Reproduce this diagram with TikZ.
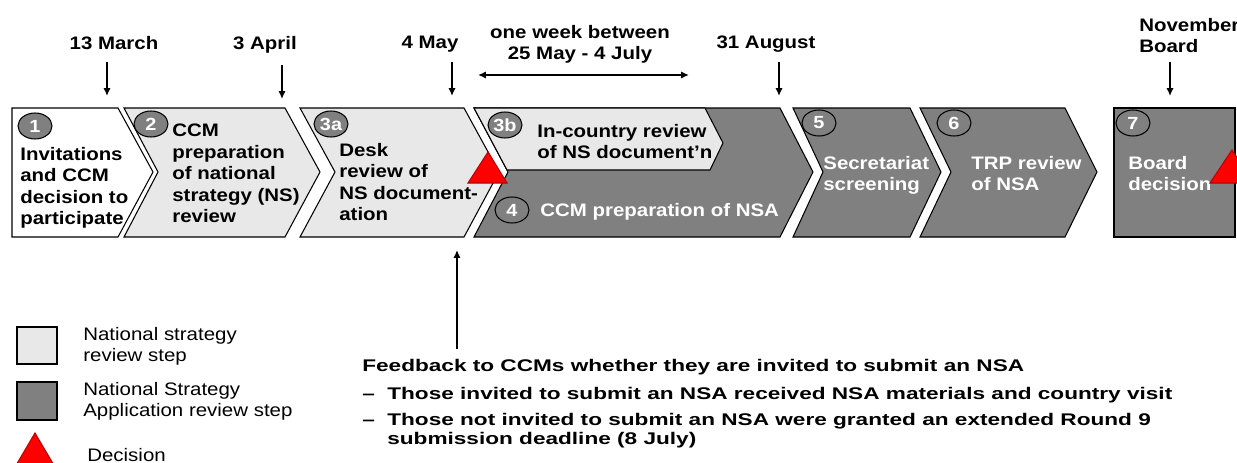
\documentclass[tikz,border=0pt]{standalone}
\usepackage{fontspec}
\setmainfont{Liberation Sans}
\newfontfamily\stepfont{Liberation Sans}[FakeStretch=1.13]
\newfontfamily\notefont{Liberation Sans}[FakeStretch=1.34]
\usetikzlibrary{shapes.geometric,arrows.meta}

\definecolor{nslight}{gray}{0.91}
\definecolor{nsadark}{gray}{0.5}
\definecolor{decred}{RGB}{255,0,0}
\definecolor{decedge}{RGB}{185,0,0}

\tikzset{
    chev/.style={draw=black, line width=0.6pt},
    steptext/.style={anchor=north west, inner sep=0pt, align=left,
        font=\stepfont\fontsize{10.3}{12.2}\selectfont\bfseries},
    datetext/.style={steptext, anchor=north, align=center},
    badge/.style={ellipse, draw=black, fill=nsadark, line width=0.6pt,
        minimum width=0.68cm, minimum height=0.52cm, inner sep=0pt, text=white,
        font=\stepfont\fontsize{10}{12}\selectfont\bfseries},
    keytext/.style={anchor=north west, inner sep=0pt, align=left,
        font=\stepfont\fontsize{10.3}{12}\selectfont},
    notetext/.style={anchor=base west, inner sep=0pt,
        font=\notefont\fontsize{9.6}{10.8}\selectfont\bfseries},
    decision/.style={fill=decred, draw=decedge, line width=0.6pt},
    datearrow/.style={-{Latex[length=4.5pt,width=4.2pt]}, line width=1pt},
}

\begin{document}
\begin{tikzpicture}[x=0.02cm,y=-0.02cm] %Calendario de la revision
        \useasboundingbox (0,0) rectangle (1237,463);

        \filldraw[chev, fill=white] (12,108) -- (118,108) -- (153,172) -- (118,237) -- (12,237) -- cycle;
        \filldraw[chev, fill=nslight] (124,108) -- (285,108) -- (320,172) -- (285,237) -- (124,237) -- (158,172) -- cycle;
        \filldraw[chev, fill=nslight] (300,108) -- (464,108) -- (499,172) -- (464,237) -- (300,237) -- (335,172) -- cycle;
        \filldraw[chev, fill=nsadark] (474,108) -- (780,108) -- (813,172) -- (780,237) -- (474,237) -- (508,172) -- cycle;
        \filldraw[chev, fill=nslight] (474,108) -- (705,108) -- (723,143) -- (710,170) -- (507,170) -- cycle;
        \filldraw[chev, fill=nsadark] (793,108) -- (910,108) -- (941,172) -- (910,237) -- (793,237) -- (823,172) -- cycle;
        \filldraw[chev, fill=nsadark] (920,108) -- (1065,108) -- (1097,172) -- (1065,237) -- (920,237) -- (951,172) -- cycle;
        \filldraw[chev, fill=nsadark] (1114,108) rectangle (1235,237);

        \node[badge] (b1) at (35,126) {1};
        \node[badge] (b2) at (151,124) {2};
        \node[badge] (b3a) at (331,124) {3a};
        \node[badge] (b3b) at (505,125) {3b};
        \node[badge] (b4) at (512,210) {4};
        \node[badge] (b5) at (819,123) {5};
        \node[badge] (b6) at (954,123) {6};
        \node[badge] (b7) at (1133,123) {7};

        \node[steptext] (t1) at (20,147) {Invitations\\and CCM\\decision to\\participate};
        \node[steptext] (t2) at (172,124) {CCM\\preparation\\of national\\strategy (NS)\\review};
        \node[steptext] (t3a) at (339,143) {Desk\\review of\\NS document-\\ation};
        \node[steptext] (t3b) at (537,124) {In-country review\\of NS document’n};
        \node[steptext, text=white] (t4) at (540,203) {CCM preparation of NSA};
        \node[steptext, text=white] (t5) at (823,156) {Secretariat\\screening};
        \node[steptext, text=white] (t6) at (971,156) {TRP review\\of NSA};
        \node[steptext, text=white] (t7) at (1128,156) {Board\\decision};

        \node[datetext] (d1) at (114,36) {13 March};
        \node[datetext] (d2) at (265,36) {3 April};
        \node[datetext] (d3) at (430,36) {4 May};
        \node[datetext] (d4) at (580,25) {one week between\\25 May - 4 July};
        \node[datetext] (d5) at (766,36) {31 August};
        \node[steptext] (d6) at (1139,18) {November\\Board};

        \coordinate (a1) at (107,62);
        \coordinate (e1) at (107,96);
        \coordinate (a2) at (282,65);
        \coordinate (e2) at (282,99);
        \coordinate (a3) at (452,62);
        \coordinate (e3) at (452,96);
        \coordinate (a5) at (779,62);
        \coordinate (e5) at (779,96);
        \coordinate (a6) at (1170,62);
        \coordinate (e6) at (1170,96);
        \coordinate (w1) at (478,75);
        \coordinate (w2) at (689,75);
        \coordinate (f1) at (457,349);
        \coordinate (f2) at (457,250);

        \draw[datearrow] (a1) -- (e1);
        \draw[datearrow] (a2) -- (e2);
        \draw[datearrow] (a3) -- (e3);
        \draw[datearrow] (a5) -- (e5);
        \draw[datearrow] (a6) -- (e6);
        \draw[datearrow, {Latex[length=4.5pt,width=4.2pt]}-{Latex[length=4.5pt,width=4.2pt]}] (w1) -- (w2);
        \draw[datearrow] (f1) -- (f2);

        \filldraw[decision] (468,183) -- (488,152) -- (507,183) -- cycle;
        \filldraw[decision] (1210,183) -- (1232,150) -- (1254,183) -- cycle;

        \filldraw[chev, fill=nslight] (17,327) rectangle (57,364);
        \filldraw[chev, fill=nsadark] (17,382) rectangle (57,420);
        \filldraw[decision] (15,467) -- (35,433) -- (55,467) -- cycle;
        \node[keytext] (k1) at (83,327) {National strategy\\review step};
        \node[keytext] (k2) at (83,382) {National Strategy\\Application review step};
        \node[keytext] (k3) at (87,448) {Decision};

        \node[notetext] (fb) at (362,371) {Feedback to CCMs whether they are invited to submit an NSA};
        \node[notetext] (m1) at (362,399) {–};
        \node[notetext] (n1) at (387,399) {Those invited to submit an NSA received NSA materials and country visit};
        \node[notetext] (m2) at (362,425) {–};
        \node[notetext] (n2) at (387,425) {Those not invited to submit an NSA were granted an extended Round 9};
        \node[notetext] (n3) at (387,444) {submission deadline (8 July)};
    \end{tikzpicture}
\end{document}
